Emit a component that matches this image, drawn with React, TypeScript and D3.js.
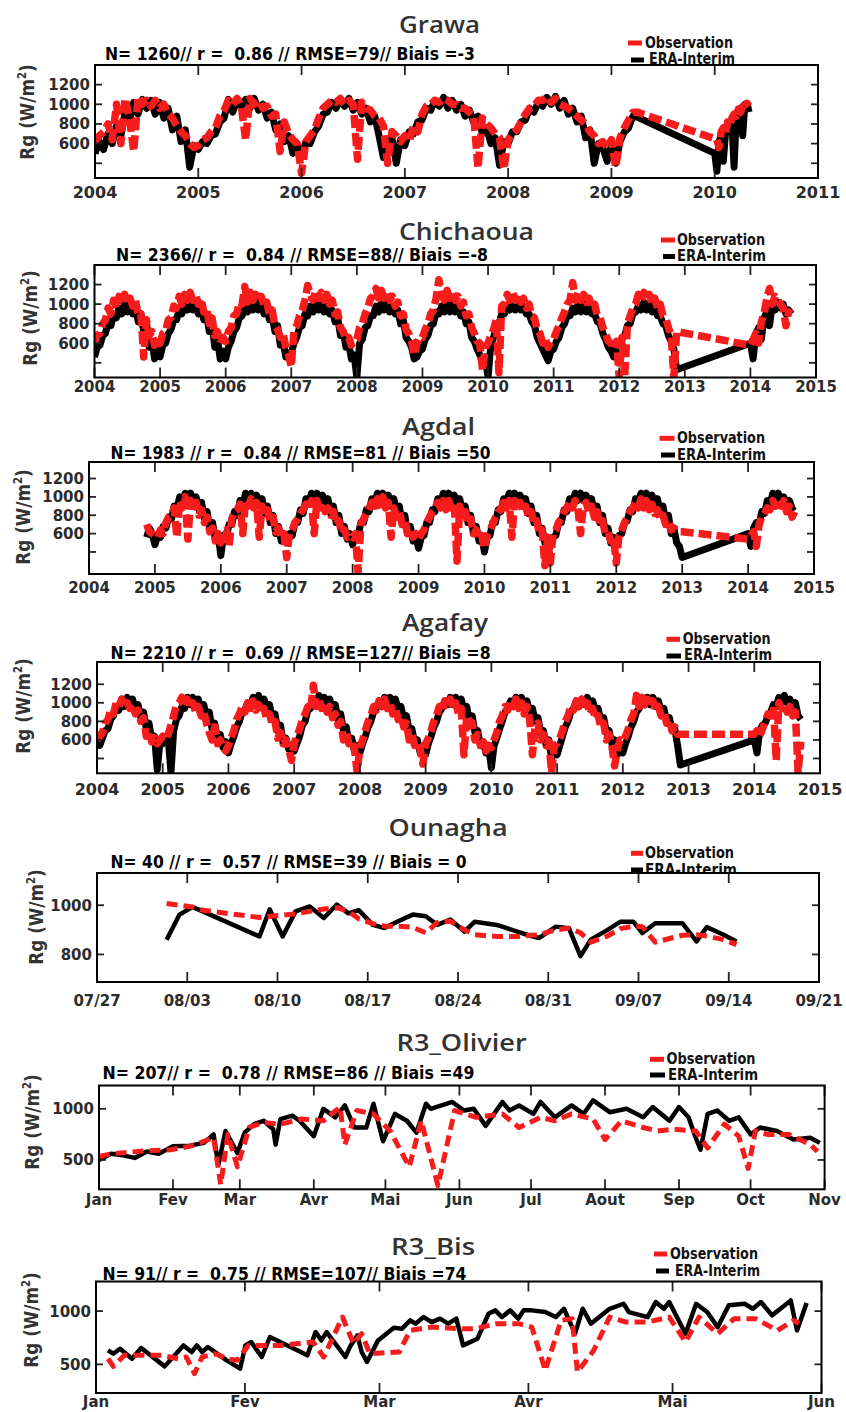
import React from 'react';
import * as d3 from 'd3';

// ---------------- DATA ----------------
// Tick values / labels
const YEARS_A = [2004, 2005, 2006, 2007, 2008, 2009, 2010, 2011];
const YEARS_B = [2004, 2005, 2006, 2007, 2008, 2009, 2010, 2011, 2012, 2013, 2014, 2015];
const Y_TICKS_LONG = [400, 600, 800, 1000, 1200];
const Y_LABELS_LONG = ['', '600', '800', '1000', '1200'];
const OUN_TICK_DAYS = [0, 7, 14, 21, 28, 35, 42, 49, 56];
const OUN_TICK_LABELS = ['07/27', '08/03', '08/10', '08/17', '08/24', '08/31', '09/07', '09/14', '09/21'];
const OUN_Y_TICKS = [800, 1000];
const OLI_MONTH_DAYS = [0, 31, 59, 90, 120, 151, 181, 212, 243, 273, 304];
const OLI_MONTHS = ['Jan', 'Fev', 'Mar', 'Avr', 'Mai', 'Jun', 'Jul', 'Aout', 'Sep', 'Oct', 'Nov'];
const BIS_MONTH_DAYS = [0, 31, 59, 90, 120, 151];
const BIS_MONTHS = ['Jan', 'Fev', 'Mar', 'Avr', 'Mai', 'Jun'];
const Y_TICKS_500 = [500, 1000];

// Grawa: semi-monthly from 2004.0, then weekly-ish from 2010.0
const GRAWA_ERA_MAIN = [
  500, 620, 540, 700, 600, 780, 680, 920, 820, 1020, 900, 1050, 960, 1040, 900, 1020, 860, 960, 740, 880, 620, 740, 360, 580,
  540, 620, 600, 680, 700, 820, 860, 1050, 920, 1040, 980, 1050, 960, 1060, 940, 1000, 860, 920, 740, 800, 620, 680, 500, 580,
  460, 620, 600, 720, 780, 900, 920, 1020, 960, 1050, 980, 1060, 940, 1020, 900, 960, 820, 880, 680, 460, 600, 660, 400, 640,
  580, 720, 700, 820, 840, 960, 940, 1040, 980, 1070, 960, 1040, 940, 1000, 880, 940, 820, 880, 700, 760, 600, 660, 380, 620,
  600, 720, 720, 820, 840, 960, 920, 1020, 980, 1070, 1000, 1080, 960, 1040, 900, 960, 820, 880, 660, 740, 400, 600, 560, 420,
  580, 400, 620, 720, 760, 880, 870,
];
const GRAWA_OBS_MAIN = [
  620, 680, 720, 800, 640, 1000, 600, 1060, 860, 520, 1080, 1000, 1040, 980, 1040, 960, 1000, 900, 860, 780, 720, 680, 600, 560,
  580, 640, 660, 720, 760, 880, 940, 1040, 1000, 1060, 980, 640, 1060, 1000, 1040, 960, 980, 880, 900, 520, 820, 700, 640, 600,
  300, 620, 680, 740, 860, 960, 1000, 1040, 1020, 1060, 1000, 1040, 1000, 440, 1020, 960, 940, 880, 860, 780, 400, 720, 680, 620,
  680, 620, 780, 720, 900, 980, 1000, 1040, 1020, 1060, 1040, 1000, 1000, 960, 960, 920, 880, 350, 860, 800, 760, 700, 660, 340,
  640, 700, 740, 820, 900, 960, 980, 1040, 1040, 1080, 1020, 1060, 1000, 980, 960, 920, 880, 840, 800, 720, 680, 600, 620, 560,
  640, 360, 660, 760, 840, 920, 920,
];
const GRAWA_ERA_2010 = [500, 320, 620, 680, 420, 700, 760, 800, 820, 360, 880, 940, 960, 680, 1000, 1010, 920];
const GRAWA_OBS_2010 = [650, 640, 560, 720, 760, 700, 820, 780, 860, 900, 880, 950, 920, 980, 960, 1010, 980];

// Chichaoua: semi-monthly from 2004.0 to 2012.875, then from 2014.0
const CHI_ERA_MAIN = [
  460, 560, 580, 680, 700, 820, 780, 900, 860, 960, 900, 1000, 920, 1000, 900, 980, 820, 900, 720, 820, 560, 620, 440, 540,
  460, 580, 600, 700, 740, 840, 840, 940, 900, 1000, 940, 1020, 940, 1000, 900, 960, 840, 900, 720, 800, 560, 640, 440, 520,
  440, 560, 620, 720, 760, 860, 880, 980, 920, 1020, 940, 1040, 940, 1000, 900, 960, 840, 880, 720, 780, 580, 620, 460, 500,
  500, 600, 660, 760, 780, 900, 880, 980, 920, 1020, 940, 1020, 920, 980, 900, 940, 820, 860, 680, 720, 560, 600, 440, 480,
  250, 600, 640, 760, 780, 880, 880, 980, 920, 1020, 940, 1020, 920, 980, 900, 940, 800, 840, 660, 620, 560, 440, 460, 520,
  540, 640, 680, 780, 800, 920, 900, 980, 920, 1000, 920, 1020, 920, 980, 880, 920, 800, 820, 660, 620, 540, 480, 400, 460,
  250, 580, 660, 760, 800, 900, 900, 980, 940, 1020, 940, 1020, 940, 980, 900, 900, 820, 780, 660, 600, 540, 480, 420, 520,
  540, 620, 660, 760, 800, 880, 880, 960, 920, 1000, 920, 1000, 920, 980, 900, 900, 820, 800, 700, 640, 560, 520, 460, 560,
  540, 640, 680, 780, 800, 900, 920, 980, 940, 1020, 940, 1000, 920, 960, 880, 880, 800, 780, 680, 620, 540, 330,
];
const CHI_OBS_MAIN = [
  600, 680, 700, 800, 840, 960, 900, 1040, 960, 1080, 1000, 1100, 1020, 1060, 980, 1040, 880, 900, 460, 840, 680, 720, 580, 640,
  600, 700, 720, 840, 860, 980, 960, 1080, 1000, 1100, 1040, 1120, 1040, 1100, 1000, 1060, 920, 960, 800, 860, 680, 720, 600, 660,
  620, 720, 760, 880, 900, 1020, 1000, 1180, 1020, 1120, 1040, 1100, 1020, 1080, 980, 1020, 900, 940, 780, 740, 660, 700, 560, 480,
  360, 740, 780, 880, 940, 1040, 1190, 1100, 1040, 1140, 1060, 1120, 1040, 1100, 1000, 1040, 900, 920, 760, 720, 640, 660, 580, 620,
  640, 760, 800, 900, 960, 1060, 1080, 1160, 1060, 1140, 1060, 1120, 1040, 1080, 980, 1020, 880, 900, 740, 700, 620, 480, 600, 660,
  660, 740, 800, 900, 940, 1060, 1250, 1100, 1040, 1140, 1060, 1120, 1040, 1080, 980, 1020, 880, 900, 760, 700, 620, 600, 320, 560,
  600, 680, 740, 840, 300, 980, 1000, 1100, 1040, 1120, 1040, 1100, 1020, 1060, 960, 1000, 880, 860, 740, 700, 600, 640, 560, 620,
  640, 720, 780, 860, 920, 1000, 1040, 1220, 1040, 1120, 1040, 1100, 1020, 1060, 960, 1000, 880, 860, 760, 700, 620, 600, 540, 620,
  250, 660, 250, 800, 880, 960, 1000, 1100, 1040, 1120, 1040, 1100, 1000, 1060, 960, 1000, 880, 860, 760, 680, 250, 720,
];
const CHI_ERA_2014 = [600, 440, 700, 760, 640, 860, 920, 780, 1000, 940, 1020, 960, 1000, 900, 940, 900];
const CHI_OBS_2014 = [580, 640, 700, 600, 820, 900, 1060, 1160, 1000, 1080, 1040, 1000, 960, 780, 920, 900];

// Agdal: semi-monthly from 2004.875 to 2013.0, then from 2014.0
const AGD_ERA_MAIN = [
  560, 660, 600,
  480, 580, 560, 680, 660, 780, 760, 900, 860, 1000, 940, 1040, 960, 1040, 940, 1000, 860, 940, 760, 840, 640, 720, 540, 600,
  360, 580, 560, 700, 700, 840, 800, 960, 900, 1040, 940, 1040, 960, 1020, 900, 980, 820, 900, 720, 800, 600, 680, 520, 580,
  500, 600, 580, 720, 720, 860, 820, 980, 920, 1040, 960, 1040, 960, 1020, 900, 980, 820, 900, 720, 800, 600, 680, 540, 600,
  480, 580, 580, 720, 720, 860, 840, 980, 940, 1040, 960, 1040, 960, 1020, 900, 980, 820, 900, 720, 800, 600, 680, 520, 580,
  440, 560, 580, 720, 720, 860, 840, 980, 920, 1040, 960, 1040, 960, 1020, 900, 980, 820, 900, 720, 800, 600, 680, 520, 560,
  400, 560, 580, 720, 720, 860, 840, 980, 940, 1040, 960, 1040, 960, 1020, 900, 980, 820, 900, 720, 800, 600, 660, 500, 560,
  460, 560, 580, 720, 720, 860, 840, 980, 920, 1040, 960, 1040, 960, 1020, 900, 980, 820, 900, 720, 800, 600, 660, 500, 560,
  500, 580, 600, 720, 740, 860, 840, 980, 940, 1040, 960, 1040, 960, 1020, 900, 980, 820, 900, 720, 800, 600, 660, 500, 460,
  340,
];
const AGD_OBS_MAIN = [
  700, 620, 600,
  580, 560, 640, 600, 720, 780, 800, 880, 560, 960, 880, 1000, 540, 960, 880, 940, 800, 860, 720, 780, 620, 660, 520, 600,
  500, 600, 640, 460, 760, 840, 860, 920, 600, 960, 900, 980, 880, 940, 560, 900, 800, 860, 720, 780, 620, 660, 560, 600,
  340, 600, 640, 720, 760, 820, 860, 920, 880, 960, 600, 960, 880, 940, 840, 880, 800, 840, 700, 740, 600, 640, 560, 580,
  560, 600, 180, 700, 760, 820, 880, 940, 900, 980, 860, 1000, 880, 940, 560, 880, 780, 840, 700, 740, 600, 640, 560, 600,
  540, 600, 640, 720, 780, 840, 880, 940, 880, 960, 860, 960, 880, 940, 300, 900, 780, 840, 700, 760, 600, 640, 540, 580,
  440, 580, 640, 700, 780, 840, 860, 940, 880, 960, 560, 960, 880, 940, 840, 900, 780, 840, 700, 740, 600, 640, 250, 560,
  280, 600, 640, 720, 760, 840, 880, 940, 880, 960, 880, 600, 900, 940, 840, 900, 780, 840, 700, 740, 600, 620, 520, 560,
  280, 580, 640, 720, 780, 840, 880, 940, 880, 980, 880, 960, 860, 920, 820, 860, 760, 800, 700, 740, 640, 660, 640, 620,
  620,
];
const AGD_ERA_2014 = [600, 460, 660, 720, 700, 840, 820, 960, 920, 1040, 960, 1040, 940, 1000, 920, 960, 880, 900];
const AGD_OBS_2014 = [540, 580, 620, 460, 700, 780, 820, 880, 860, 960, 900, 980, 900, 960, 840, 900, 780, 840];

// Agafay: semi-monthly from 2004.0 to 2012.875, then from 2014.0
const AGA_ERA_MAIN = [
  600, 540, 620, 700, 720, 820, 860, 960, 920, 1040, 960, 1060, 960, 1040, 920, 980, 840, 900, 720, 780, 600, 640, 280, 580,
  560, 600, 620, 250, 700, 820, 860, 960, 940, 1060, 980, 1060, 960, 1040, 920, 980, 840, 900, 720, 780, 600, 660, 520, 580,
  460, 560, 640, 740, 800, 900, 920, 1000, 960, 1060, 980, 1080, 960, 1040, 920, 980, 820, 880, 700, 760, 560, 620, 500, 540,
  480, 560, 640, 760, 800, 920, 940, 1040, 980, 1080, 980, 1060, 960, 1040, 920, 980, 820, 880, 700, 740, 560, 620, 480, 540,
  460, 560, 640, 740, 800, 900, 940, 1020, 980, 1060, 980, 1060, 960, 1040, 920, 960, 820, 860, 700, 720, 560, 600, 460, 520,
  440, 560, 640, 740, 800, 900, 940, 1020, 980, 1060, 980, 1060, 960, 1040, 920, 960, 800, 860, 680, 700, 540, 580, 460, 520,
  300, 540, 620, 720, 800, 900, 940, 1020, 980, 1060, 980, 1060, 960, 1020, 900, 940, 800, 840, 680, 700, 540, 600, 400, 480,
  440, 540, 640, 740, 800, 900, 940, 1020, 960, 1040, 980, 1060, 960, 1020, 900, 940, 800, 840, 680, 700, 560, 600, 440, 500,
  460, 560, 640, 740, 800, 900, 940, 1020, 980, 1060, 980, 1060, 960, 1020, 900, 940, 800, 840, 700, 720, 540, 330,
];
const AGA_OBS_MAIN = [
  600, 640, 680, 780, 820, 920, 880, 1000, 960, 1040, 960, 1000, 940, 980, 880, 920, 800, 840, 640, 700, 580, 620, 560, 600,
  640, 600, 660, 760, 860, 980, 1000, 1060, 960, 1040, 940, 1000, 900, 960, 860, 900, 780, 680, 600, 740, 560, 600, 520, 480,
  540, 620, 700, 820, 880, 960, 900, 1000, 940, 1020, 920, 980, 880, 940, 820, 880, 760, 800, 620, 680, 560, 600, 500, 380,
  560, 640, 720, 820, 880, 960, 920, 1190, 960, 1040, 940, 1000, 900, 960, 840, 880, 760, 800, 600, 680, 560, 600, 500, 250,
  520, 600, 700, 800, 860, 960, 920, 1020, 960, 1040, 940, 1000, 880, 940, 820, 860, 740, 780, 600, 660, 540, 580, 500, 340,
  560, 620, 700, 800, 860, 960, 900, 1020, 960, 1040, 940, 1000, 880, 940, 440, 860, 800, 780, 600, 660, 540, 580, 480, 540,
  520, 600, 680, 800, 860, 960, 920, 1020, 960, 1040, 940, 1000, 880, 960, 820, 440, 760, 780, 600, 660, 540, 580, 250, 540,
  560, 620, 700, 800, 860, 960, 920, 1020, 960, 1040, 940, 1000, 880, 940, 820, 860, 740, 780, 600, 660, 540, 320, 500, 600,
  580, 640, 720, 820, 880, 1080, 960, 1060, 980, 1040, 960, 1020, 920, 960, 860, 900, 780, 820, 700, 740, 660, 660,
];
const AGA_ERA_2014 = [600, 460, 700, 760, 780, 860, 900, 980, 960, 1060, 1000, 1080, 1000, 1040, 960, 1000, 860, 820];
const AGA_OBS_2014 = [660, 700, 640, 720, 800, 880, 860, 960, 380, 1000, 940, 980, 900, 960, 860, 900, 250, 580];

// Ounagha: days after 07/27
const OUN_DAYS = [
  5.4, 6.4, 7.4, 8.2, 12.6, 13.4, 14.4, 15.4, 16.5, 17.6, 18.6, 19.5, 20.3, 21.4, 22.3, 23.4, 24.5, 25.5, 26.4, 27.4,
  28.5, 29.3, 31.0, 32.6, 33.6, 34.3, 35.6, 36.6, 37.5, 38.3, 39.6, 40.6, 41.6, 42.3, 43.3, 45.4, 46.5, 47.3, 48.6, 49.6,
];
const OUN_ERA = [
  860, 962, 993, 975, 873, 983, 873, 975, 995, 948, 1003, 967, 980, 920, 907, 936, 962, 955, 920, 942,
  893, 933, 920, 893, 876, 867, 913, 907, 793, 860, 900, 933, 933, 887, 927, 927, 853, 911, 880, 853,
];
const OUN_OBS = [
  1007, 1000, 993, 980, 950, 955, 960, 965, 975, 985, 990, 975, 945, 925, 915, 915, 910, 888, 930, 935,
  900, 880, 873, 873, 878, 880, 900, 907, 888, 850, 875, 905, 915, 913, 850, 878, 880, 875, 860, 840,
];

// R3_Olivier: day of year
const OLI_ERA_DAYS = [
  0, 5, 10, 15, 20, 25, 31, 38, 44, 48, 50, 53, 58, 61, 65, 69, 73, 74, 76, 81, 84, 90, 94, 99, 103, 107, 112, 115, 119, 124,
  129, 133, 137, 139, 148, 153, 157, 162, 169, 172, 176, 182, 185, 191, 198, 203, 207, 214, 221, 228, 232, 239, 243, 247, 250,
  252, 255, 259, 264, 268, 273, 277, 284, 291, 298, 302,
];
const OLI_ERA = [
  500, 560, 545, 520, 583, 560, 633, 640, 667, 750, 450, 783, 567, 767, 850, 883, 800, 650, 900, 933, 883, 733, 1000, 917, 1033,
  817, 817, 1050, 683, 950, 883, 767, 1050, 1000, 1067, 983, 1000, 833, 1067, 983, 1033, 950, 1067, 917, 1033, 950, 1083, 967,
  1000, 917, 1017, 883, 1017, 917, 717, 600, 950, 983, 883, 917, 750, 817, 783, 700, 717, 667,
];
const OLI_OBS_DAYS = [
  0, 5, 12, 20, 30, 38, 44, 48, 51, 54, 58, 63, 69, 76, 85, 94, 101, 103, 108, 115, 122, 130, 135, 142, 149, 158, 169, 176,
  185, 191, 198, 207, 212, 219, 228, 234, 241, 250, 255, 262, 268, 272, 275, 280, 289, 298, 301,
];
const OLI_OBS = [
  533, 560, 575, 590, 600, 633, 683, 717, 260, 750, 433, 820, 866, 850, 900, 883, 1017, 650, 983, 950, 783, 433, 883, 250,
  983, 917, 950, 817, 917, 883, 950, 900, 700, 883, 817, 783, 800, 783, 617, 850, 733, 417, 783, 750, 750, 650, 583,
];

// R3_Bis: day of year
const BIS_ERA_DAYS = [
  2.5, 3.6, 5, 7.5, 9.4, 14.3, 18.2, 19.9, 21, 22.1, 23.3, 27.2, 30, 31.1, 32.3, 34.5, 36.2, 44, 45.7, 46.9, 48, 51.9, 53,
  54.4, 55.3, 56.4, 58.7, 62, 63.7, 65.4, 66.5, 68.2, 69.9, 71.6, 73.3, 75, 76.4, 79.4, 81.7, 83.1, 84.5, 86.2, 87.9, 89,
  90.7, 93.5, 95.7, 97.4, 99.7, 101.3, 103, 106.9, 109.8, 110.9, 114.8, 116.5, 118.2, 119.3, 122.7, 124.9, 127.2, 129.4,
  131.7, 135, 136.7, 138.4, 140.7, 142.9, 144.6, 145.9, 147.9,
];
const BIS_ERA = [
  632, 600, 647, 553, 653, 481, 678, 616, 678, 616, 663, 538, 460, 678, 710, 569, 757, 585, 803, 725, 803, 569, 678, 772,
  616, 522, 725, 844, 835, 913, 882, 944, 897, 929, 882, 929, 678, 741, 975, 1007, 944, 1007, 929, 1007, 1007, 991, 944,
  1022, 788, 1022, 882, 1022, 1069, 991, 944, 1085, 1022, 1085, 788, 1069, 991, 850, 1054, 1069, 1022, 1085, 960, 1038,
  1100, 819, 1075,
];
const BIS_OBS_DAYS = [
  2.5, 3.6, 5.9, 9.2, 13.7, 17.1, 18.8, 20.5, 22.1, 24.9, 27.2, 29.4, 31.7, 38.4, 45.2, 47.4, 51.3, 53.6, 55.3, 57, 63.1,
  65.4, 69.9, 75.5, 78.9, 83.4, 87.9, 90.7, 93.5, 96.8, 99.1, 100.2, 103.6, 106.9, 110.3, 114.8, 119.3, 122.7, 125.5, 129.4,
  132.8, 137.3, 141.8, 145.2, 146.3,
];
const BIS_OBS = [
  553, 481, 585, 585, 585, 553, 569, 413, 569, 600, 553, 538, 678, 678, 710, 569, 944, 694, 788, 600, 616, 819, 850, 835,
  835, 882, 882, 850, 444, 913, 929, 428, 632, 944, 897, 897, 944, 710, 944, 788, 929, 929, 819, 913, 882,
];

// ---------------- HELPERS ----------------
type Pt = [number, number];
const regular = (start: number, step: number, vals: number[]): Pt[] => vals.map((v, i) => [start + i * step, v]);
const paired = (xs: number[], vs: number[]): Pt[] => xs.map((x, i) => [x, vs[i]]);

const FONT = "'DejaVu Sans', 'Liberation Sans', sans-serif";
const TITLE_FONT = "'Open Sans', 'DejaVu Sans', sans-serif";
const RED = '#f61c1c';
const TXT = '#2b2b2b';

interface PanelCfg {
  id: string;
  title: string;
  stats: string;
  frame: [number, number, number, number];
  xDomain: [number, number];
  yDomain: [number, number];
  xTicks: number[];
  xLabels: string[];
  yTicks: number[];
  yLabels: string[];
  titlePos: [number, number, number];
  statsPos: [number, number, number];
  obsMark: [number, number, number];
  obsText: [number, number, number];
  eraMark: [number, number, number];
  eraText: [number, number, number];
  xLabY: number;
  xFs: number;
  yLab: [number, number];
  dense: boolean;
  era: Pt[];
  obs: Pt[];
}

const S = 1 / 24;

const PANELS: PanelCfg[] = [
  {
    id: 'grawa', title: 'Grawa', stats: 'N= 1260// r =  0.86 // RMSE=79// Biais =-3',
    frame: [95, 818, 65, 178], xDomain: [2004, 2011], yDomain: [250, 1400],
    xTicks: YEARS_A, xLabels: YEARS_A.map(String), yTicks: Y_TICKS_LONG, yLabels: Y_LABELS_LONG,
    titlePos: [399, 33, 81], statsPos: [105, 60, 370],
    obsMark: [628, 642, 43], obsText: [645, 48, 88], eraMark: [631, 644, 60], eraText: [649, 64, 86],
    xLabY: 198, xFs: 16, yLab: [27, 112], dense: true,
    era: [...regular(2004, S, GRAWA_ERA_MAIN), ...regular(2010, 1 / 48, GRAWA_ERA_2010)],
    obs: [...regular(2004, S, GRAWA_OBS_MAIN), ...regular(2010, 1 / 48, GRAWA_OBS_2010)],
  },
  {
    id: 'chich', title: 'Chichaoua', stats: 'N= 2366// r =  0.84 // RMSE=88// Biais =-8',
    frame: [94.5, 816, 265, 377.5], xDomain: [2004, 2015], yDomain: [250, 1400],
    xTicks: YEARS_B, xLabels: YEARS_B.map(String), yTicks: Y_TICKS_LONG, yLabels: Y_LABELS_LONG,
    titlePos: [399, 240, 135], statsPos: [116, 260.5, 372],
    obsMark: [661, 675, 240], obsText: [677, 244.5, 88], eraMark: [663, 675, 256.5], eraText: [677, 261, 89],
    xLabY: 392, xFs: 15, yLab: [30, 318], dense: true,
    era: [...regular(2004, S, CHI_ERA_MAIN), ...regular(2014, S, CHI_ERA_2014)],
    obs: [...regular(2004, S, CHI_OBS_MAIN), ...regular(2014, S, CHI_OBS_2014)],
  },
  {
    id: 'agdal', title: 'Agdal', stats: 'N= 1983 // r =  0.84 // RMSE=81 // Biais =50',
    frame: [89, 814, 462, 574], xDomain: [2004, 2015], yDomain: [160, 1380],
    xTicks: YEARS_B, xLabels: YEARS_B.map(String), yTicks: Y_TICKS_LONG, yLabels: Y_LABELS_LONG,
    titlePos: [402, 435, 73], statsPos: [110.6, 459.3, 380],
    obsMark: [659.5, 674.5, 438.3], obsText: [677, 443, 88], eraMark: [661, 675, 455], eraText: [677, 459.5, 89],
    xLabY: 593, xFs: 15, yLab: [23, 517], dense: true,
    era: [...regular(2004.875, S, AGD_ERA_MAIN), ...regular(2014, S, AGD_ERA_2014)],
    obs: [...regular(2004.875, S, AGD_OBS_MAIN), ...regular(2014, S, AGD_OBS_2014)],
  },
  {
    id: 'agafay', title: 'Agafay', stats: 'N= 2210 // r =  0.69 // RMSE=127// Biais =8',
    frame: [97, 820, 662, 773.3], xDomain: [2004, 2015], yDomain: [240, 1440],
    xTicks: YEARS_B, xLabels: YEARS_B.map(String), yTicks: Y_TICKS_LONG, yLabels: Y_LABELS_LONG,
    titlePos: [402, 630.7, 86], statsPos: [110.6, 659.3, 380],
    obsMark: [666.5, 680, 639.3], obsText: [682.7, 643.5, 88], eraMark: [666.5, 681, 656], eraText: [684, 660, 88],
    xLabY: 795, xFs: 16, yLab: [23, 706], dense: true,
    era: [...regular(2004, S, AGA_ERA_MAIN), ...regular(2014, S, AGA_ERA_2014)],
    obs: [...regular(2004, S, AGA_OBS_MAIN), ...regular(2014, S, AGA_OBS_2014)],
  },
  {
    id: 'oun', title: 'Ounagha', stats: 'N= 40 // r =  0.57 // RMSE=39 // Biais = 0',
    frame: [97, 819, 873, 982], xDomain: [0, 56], yDomain: [688, 1131],
    xTicks: OUN_TICK_DAYS, xLabels: OUN_TICK_LABELS, yTicks: OUN_Y_TICKS, yLabels: OUN_Y_TICKS.map(String),
    titlePos: [388.6, 836, 119], statsPos: [110.6, 868.3, 356],
    obsMark: [631, 643, 853.3], obsText: [645, 858, 89], eraMark: [631, 643, 870], eraText: [645, 874.5, 92],
    xLabY: 1006, xFs: 15, yLab: [36, 917], dense: false,
    era: paired(OUN_DAYS, OUN_ERA), obs: paired(OUN_DAYS, OUN_OBS),
  },
  {
    id: 'oli', title: 'R3_Olivier', stats: 'N= 207// r =  0.78 // RMSE=86 // Biais =49',
    frame: [99, 824.6, 1085.5, 1189.3], xDomain: [0, 304], yDomain: [213, 1228],
    xTicks: OLI_MONTH_DAYS, xLabels: OLI_MONTHS, yTicks: Y_TICKS_500, yLabels: Y_TICKS_500.map(String),
    titlePos: [396.6, 1050.7, 130], statsPos: [102.5, 1079.3, 372],
    obsMark: [650, 664, 1059.3], obsText: [666.5, 1064, 89], eraMark: [650, 665, 1075], eraText: [668, 1080, 90],
    xLabY: 1205, xFs: 15, yLab: [32, 1122], dense: false,
    era: paired(OLI_ERA_DAYS, OLI_ERA), obs: paired(OLI_OBS_DAYS, OLI_OBS),
  },
  {
    id: 'bis', title: 'R3_Bis', stats: 'N= 91// r =  0.75 // RMSE=107// Biais =74',
    frame: [96, 821.5, 1281.5, 1393], xDomain: [0, 151], yDomain: [231, 1278],
    xTicks: BIS_MONTH_DAYS, xLabels: BIS_MONTHS, yTicks: Y_TICKS_500, yLabels: Y_TICKS_500.map(String),
    titlePos: [391, 1255, 84], statsPos: [102.5, 1280, 364],
    obsMark: [654, 667, 1254], obsText: [670, 1259, 88], eraMark: [656, 669, 1271], eraText: [675, 1276, 85],
    xLabY: 1407, xFs: 15, yLab: [31, 1320], dense: false,
    era: paired(BIS_ERA_DAYS, BIS_ERA), obs: paired(BIS_OBS_DAYS, BIS_OBS),
  },
];

function Panel({ c }: { c: PanelCfg }) {
  const [fx0, fx1, fy0, fy1] = c.frame;
  const x = d3.scaleLinear().domain(c.xDomain).range([fx0, fx1]);
  const y = d3.scaleLinear().domain(c.yDomain).range([fy1, fy0]);
  const line = d3.line<Pt>().x((d) => x(d[0])).y((d) => y(d[1]));
  const clip = `clip-${c.id}`;
  const blackW = c.dense ? 7 : 4.5;
  const redW = c.dense ? 7.5 : 5;
  const dash = c.dense ? '13,5' : '11,6';
  return (
    <g>
      <defs>
        <clipPath id={clip}>
          <rect x={fx0} y={fy0} width={fx1 - fx0} height={fy1 - fy0} />
        </clipPath>
      </defs>
      <text x={c.titlePos[0]} y={c.titlePos[1]} fontSize={23} fontWeight={600} fill="#333" fontFamily={TITLE_FONT}
        textLength={c.titlePos[2]} lengthAdjust="spacingAndGlyphs">{c.title}</text>
      <text x={c.statsPos[0]} y={c.statsPos[1]} fontSize={17} fontWeight="bold" fill="#000" fontFamily={FONT}
        style={{ whiteSpace: 'pre' }} textLength={c.statsPos[2]} lengthAdjust="spacingAndGlyphs">{c.stats}</text>
      {/* legend */}
      <line x1={c.obsMark[0]} x2={c.obsMark[1]} y1={c.obsMark[2]} y2={c.obsMark[2]} stroke={RED} strokeWidth={5} />
      <text x={c.obsText[0]} y={c.obsText[1]} fontSize={15} fontWeight="bold" fill="#111" fontFamily={FONT}
        textLength={c.obsText[2]} lengthAdjust="spacingAndGlyphs">Observation</text>
      <line x1={c.eraMark[0]} x2={c.eraMark[1]} y1={c.eraMark[2]} y2={c.eraMark[2]} stroke="#000" strokeWidth={5} />
      <text x={c.eraText[0]} y={c.eraText[1]} fontSize={15} fontWeight="bold" fill="#111" fontFamily={FONT}
        textLength={c.eraText[2]} lengthAdjust="spacingAndGlyphs">ERA-Interim</text>
      {/* plot area */}
      <rect x={fx0} y={fy0} width={fx1 - fx0} height={fy1 - fy0} fill="#fff" />
      <g clipPath={`url(#${clip})`}>
        <path d={line(c.era) || ''} fill="none" stroke="#000" strokeWidth={blackW} strokeLinejoin="round" />
        <path d={line(c.obs) || ''} fill="none" stroke={RED} strokeWidth={redW} strokeDasharray={dash}
          strokeLinejoin="round" />
      </g>
      {/* ticks */}
      {c.xTicks.map((t, i) => (
        <g key={'xt' + i}>
          <line x1={x(t)} x2={x(t)} y1={fy1} y2={fy1 - 10} stroke="#222" strokeWidth={1.8} />
          <line x1={x(t)} x2={x(t)} y1={fy0} y2={fy0 + 10} stroke="#222" strokeWidth={1.8} />
          <text x={x(t)} y={c.xLabY} textAnchor="middle" fontSize={c.xFs} fontWeight="bold" fill={TXT}
            fontFamily={FONT}>{c.xLabels[i]}</text>
        </g>
      ))}
      {c.yTicks.map((t, i) => (
        <g key={'yt' + i}>
          <line x1={fx0} x2={fx0 + 7} y1={y(t)} y2={y(t)} stroke="#222" strokeWidth={1.8} />
          <line x1={fx1} x2={fx1 - 7} y1={y(t)} y2={y(t)} stroke="#222" strokeWidth={1.8} />
          {c.yLabels[i] ? (
            <text x={fx0 - 5} y={y(t)} dy="0.36em" textAnchor="end" fontSize={15} fontWeight="bold" fill={TXT}
              fontFamily={FONT}>{c.yLabels[i]}</text>
          ) : null}
        </g>
      ))}
      <rect x={fx0} y={fy0} width={fx1 - fx0} height={fy1 - fy0} fill="none" stroke="#000" strokeWidth={2} />
      {/* y label */}
      <g transform={`translate(${c.yLab[0]},${c.yLab[1]}) rotate(-90)`}>
        <text x={0} y={7} textAnchor="middle" fontSize={20} fontWeight="bold" fill="#333" fontFamily={FONT}
          transform="scale(0.84,1)">
          Rg (W/m<tspan dy={-8} fontSize={12}>2</tspan><tspan dy={8}>)</tspan>
        </text>
      </g>
    </g>
  );
}

export default function App() {
  return (
    <svg width={846} height={1412} style={{ position: 'absolute', left: 0, top: 0, background: '#fff' }}>
      <rect x={0} y={0} width={846} height={1412} fill="#fff" />
      {PANELS.map((c) => (
        <Panel key={c.id} c={c} />
      ))}
    </svg>
  );
}
